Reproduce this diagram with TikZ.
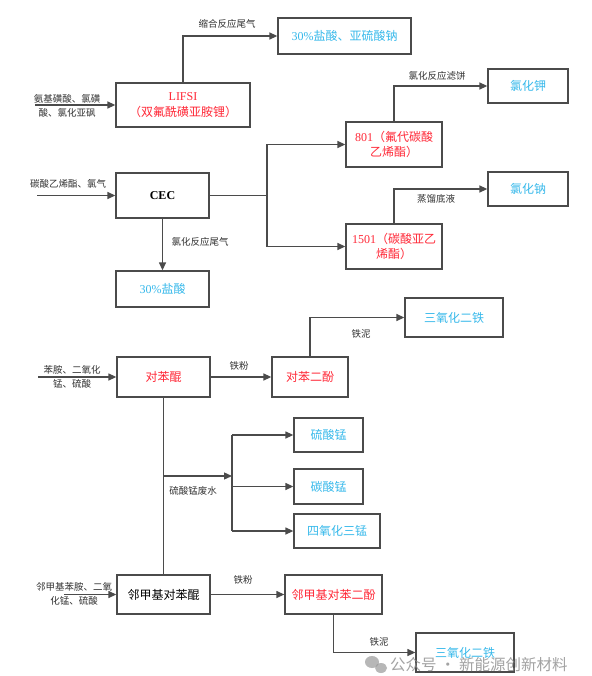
\documentclass[tikz,border=0pt]{standalone}
\usepackage{fontspec}
\setmainfont{Noto Sans CJK SC}
\newfontfamily\lat{Liberation Serif}
\usetikzlibrary{arrows.meta,shadows}
\definecolor{redt}{RGB}{255,40,55}
\definecolor{bluet}{RGB}{55,185,235}
\definecolor{edgec}{RGB}{75,75,75}
\definecolor{lblc}{RGB}{50,50,50}
\begin{document}
\begin{tikzpicture}[x=1pt,y=-1pt,
  box/.style={draw=edgec,line width=1.3pt,fill=white,inner sep=1pt,align=center,
    font=\fontsize{12}{15.5}\selectfont,
    drop shadow={shadow xshift=1.3pt,shadow yshift=-1.3pt,fill=black!22,opacity=0.6}},
  redbox/.style={box,text=redt},
  bluebox/.style={box,text=bluet},
  lbl/.style={text=lblc,font=\fontsize{9.5}{13.5}\selectfont,align=center,inner sep=0pt},
  ln/.style={draw=edgec,line width=1.3pt},
  arr/.style={ln,-{Triangle[length=8pt,width=7pt]}}]
\useasboundingbox (0,0) rectangle (591,676);
\fill[white] (0,0) rectangle (591,676);

% boxes
\node[redbox,minimum width=134pt,minimum height=44pt] (lifsi) at (183,105) {{\lat LIFSI}\\（双氟酰磺亚胺锂）};
\node[bluebox,minimum width=133pt,minimum height=36pt] (hcla) at (344.5,36) {{\lat 30\%}盐酸、亚硫酸钠};
\node[redbox,minimum width=96pt,minimum height=45pt] (bea) at (394,144.5) {{\lat 801}（氟代碳酸\\乙烯酯）};
\node[bluebox,minimum width=80pt,minimum height=34pt] (kcl) at (528,86) {氯化钾};
\node[redbox,minimum width=96pt,minimum height=45pt] (beb) at (394,246.5) {{\lat 1501}（碳酸亚乙\\烯酯）};
\node[bluebox,minimum width=80pt,minimum height=34pt] (nacl) at (528,189) {氯化钠};
\node[box,minimum width=93pt,minimum height=45pt] (cec) at (162.5,195.5) {{\lat\bfseries CEC}};
\node[bluebox,minimum width=93pt,minimum height=36pt] (hclb) at (162.5,289) {{\lat 30\%}盐酸};
\node[redbox,minimum width=93pt,minimum height=40pt] (bq) at (163.5,377) {对苯醌};
\node[redbox,minimum width=76pt,minimum height=40pt] (hq) at (310,377) {对苯二酚};
\node[bluebox,minimum width=98pt,minimum height=39pt] (fea) at (454,317.5) {三氧化二铁};
\node[bluebox,minimum width=69pt,minimum height=34pt] (mnso) at (328.5,435) {硫酸锰};
\node[bluebox,minimum width=69pt,minimum height=35pt] (mnco) at (328.5,486.5) {碳酸锰};
\node[bluebox,minimum width=86pt,minimum height=34pt] (mnoo) at (337,531) {四氧化三锰};
\node[box,minimum width=93pt,minimum height=39pt] (mbq) at (163.5,594.5) {邻甲基对苯醌};
\node[redbox,minimum width=97pt,minimum height=39pt] (mhq) at (333.5,594.5) {邻甲基对苯二酚};
\node[bluebox,minimum width=98pt,minimum height=39pt] (feb) at (465,652.5) {三氧化二铁};

% free ends
\coordinate (ina) at (35,105);
\coordinate (inb) at (37,195.5);
\coordinate (inc) at (38,377);
\coordinate (ind) at (64,594.5);
\coordinate (split) at (267,195.5);
\coordinate (ja) at (163.5,476);
\coordinate (jb) at (232,476);
\coordinate (vtop) at (232,435);
\coordinate (vbot) at (232,531);

% connectors
\draw[arr] (lifsi.north) |- (hcla.west);
\draw[arr] (ina) -- (lifsi.west);
\draw[arr] (inb) -- (cec.west);
\draw[ln] (cec.east) -- (split);
\draw[arr] (split) |- (bea.west);
\draw[arr] (split) |- (beb.west);
\draw[arr] (cec.south) -- (hclb.north);
\draw[arr] (bea.north) |- (kcl.west);
\draw[arr] (beb.north) |- (nacl.west);
\draw[arr] (inc) -- (bq.west);
\draw[arr] (bq.east) -- (hq.west);
\draw[arr] (hq.north) |- (fea.west);
\draw[ln] (bq.south) -- (mbq.north);
\draw[arr] (ja) -- (jb);
\draw[ln] (vtop) -- (vbot);
\draw[arr] (vtop) -- (mnso.west);
\draw[arr] (vtop |- mnco.west) -- (mnco.west);
\draw[arr] (vbot) -- (mnoo.west);
\draw[arr] (ind) -- (mbq.west);
\draw[arr] (mbq.east) -- (mhq.west);
\draw[arr] (mhq.south) |- (feb.west);

% labels
\node[lbl] (la) at (227,24) {缩合反应尾气};
\node[lbl] (lb) at (437,76) {氯化反应滤饼};
\node[lbl] (lc) at (436,199) {蒸馏底液};
\node[lbl] (ld) at (68,184) {碳酸乙烯酯、氯气};
\node[lbl] (le) at (200,242) {氯化反应尾气};
\node[lbl] (lf) at (67,106) {氨基磺酸、氯磺\\酸、氯化亚砜};
\node[lbl] (lg) at (72,377) {苯胺、二氧化\\锰、硫酸};
\node[lbl] (lh) at (239,366) {铁粉};
\node[lbl] (li) at (361,334) {铁泥};
\node[lbl] (lj) at (193,491) {硫酸锰废水};
\node[lbl] (lk) at (243,580) {铁粉};
\node[lbl] (ll) at (379,642) {铁泥};
\node[lbl] (lm) at (74,594) {邻甲基苯胺、二氧\\化锰、硫酸};

% watermark
\fill[black!40,opacity=0.7] (372,662) ellipse (7pt and 6pt);
\fill[black!40,opacity=0.7] (381,668) ellipse (6pt and 5pt);
\node[text=black!45,opacity=0.8,font=\fontsize{15.5}{17}\selectfont,anchor=west,inner sep=0pt] (wm) at (390,665) {公众号 · 新能源创新材料};
\end{tikzpicture}
\end{document}
